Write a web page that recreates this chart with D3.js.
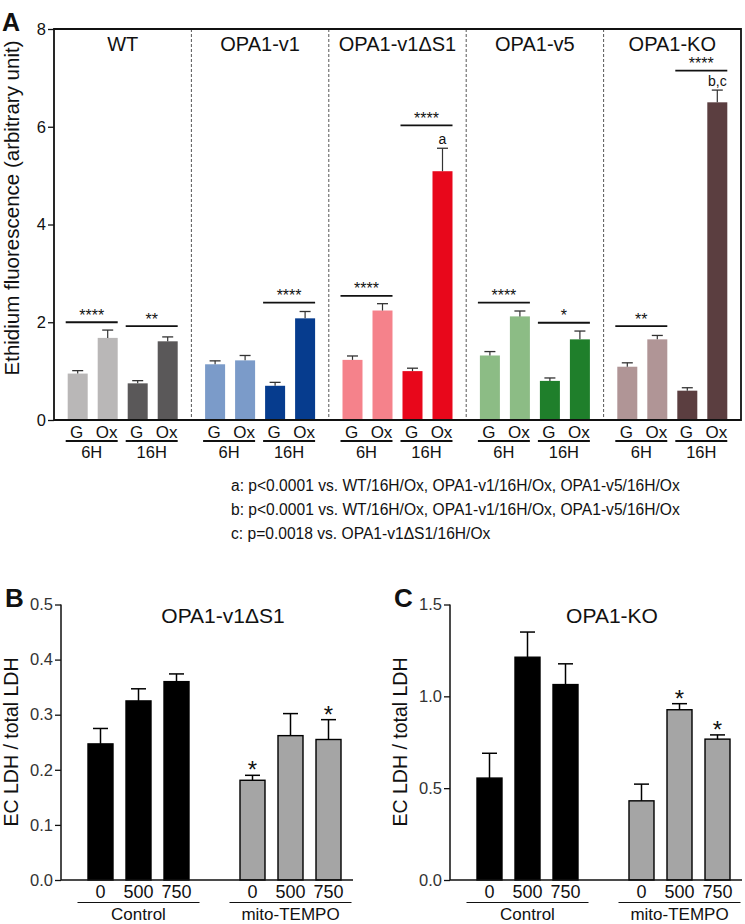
<!DOCTYPE html>
<html><head><meta charset="utf-8">
<script src="https://cdn.jsdelivr.net/npm/d3@7"></script>
<style>
body{margin:0;background:#fff;}
svg{display:block;font-family:"Liberation Sans",Arial,Helvetica,sans-serif;}
</style>
</head><body>
<svg id="c" width="745" height="924"></svg>
<script>
// ---------- Panel A data ----------
const groupsA = ["WT","OPA1-v1","OPA1-v1ΔS1","OPA1-v5","OPA1-KO"];
const barsA = ["6H-G","6H-Ox","16H-G","16H-Ox"];
const treatLabelsA = ["G","Ox","G","Ox"];
const timeLabelsA = ["6H","16H"];
const meanWT  = [0.95,1.68,0.75,1.61];
const errWT   = [0.06,0.16,0.055,0.09];
const meanV1  = [1.14,1.22,0.70,2.08];
const errV1   = [0.07,0.10,0.07,0.14];
const meanDS1 = [1.23,2.24,1.00,5.09];
const errDS1  = [0.08,0.14,0.06,0.47];
const meanV5  = [1.32,2.12,0.80,1.65];
const errV5   = [0.08,0.11,0.06,0.17];
const meanKO  = [1.09,1.65,0.60,6.50];
const errKO   = [0.08,0.08,0.06,0.25];
const lightColorsA = ["#b9b7b7","#7b9bc9","#f5828b","#8cbc85","#b09596"];
const darkColorsA  = ["#5a5859","#063c8e","#e8071b","#1f7f2b","#5b3e40"];
const ticksA = [0,2,4,6,8];
const sigGroupA = [0,0,1,2,2,3,3,4,4];
const sigFromA  = [0,2,2,0,2,0,2,0,2];
const sigToA    = [1,3,3,1,3,1,3,1,3];
const sigYA     = [2.0,1.92,2.40,2.54,6.03,2.40,1.99,1.92,7.15];
const sigTextA  = ["****","**","****","****","****","****","*","**","****"];
const letterGroupA = [2,4];
const letterTextA  = ["a","b,c"];
const footnotes = [
  "a: p<0.0001 vs. WT/16H/Ox, OPA1-v1/16H/Ox, OPA1-v5/16H/Ox",
  "b: p<0.0001 vs. WT/16H/Ox, OPA1-v1/16H/Ox, OPA1-v5/16H/Ox",
  "c: p=0.0018 vs. OPA1-v1ΔS1/16H/Ox"
];

// ---------- Panels B / C data ----------
const dosesBC = ["0","500","750"];
const treatmentsBC = ["Control","mito-TEMPO"];
const meanB = [0.247,0.325,0.360,0.181,0.262,0.255];
const errB  = [0.028,0.022,0.014,0.009,0.040,0.036];
const starB = ["","","","*","","*"];
const ticksB = [0.0,0.1,0.2,0.3,0.4,0.5];
const meanC = [0.555,1.213,1.064,0.431,0.927,0.767];
const errC  = [0.135,0.137,0.113,0.091,0.033,0.023];
const starC = ["","","","","*","*"];
const ticksC = [0.0,0.5,1.0,1.5];

const svg = d3.select("#c");
const FONT = '"Liberation Sans",Arial,Helvetica,sans-serif';

// ================= Panel A =================
(function(){
  const means = [meanWT,meanV1,meanDS1,meanV5,meanKO];
  const errs  = [errWT,errV1,errDS1,errV5,errKO];
  const L=54, R=741, T=29, B=420;
  const g = svg.append("g");
  const x0 = d3.scaleBand().domain(groupsA).range([L,R]);
  const bw = x0.bandwidth();
  const x1 = d3.scaleBand().domain(barsA).range([bw/2-60,bw/2+60]).paddingInner(1/3).paddingOuter(1/6);
  const y = d3.scaleLinear().domain([0,8]).range([B,T]);

  g.selectAll("line.div").data(groupsA.slice(1)).join("line")
    .attr("x1",d=>x0(d)).attr("x2",d=>x0(d)).attr("y1",T).attr("y2",B)
    .attr("stroke","#444").attr("stroke-width",0.9).attr("stroke-dasharray","3,2");

  groupsA.forEach((grp,gi)=>{
    const gg = g.append("g").attr("transform",`translate(${x0(grp)},0)`);
    barsA.forEach((b,bi)=>{
      const v = means[gi][bi], e = errs[gi][bi];
      const cx = x1(b)+x1.bandwidth()/2;
      gg.append("rect").attr("x",x1(b)).attr("width",x1.bandwidth())
        .attr("y",y(v)).attr("height",y(0)-y(v))
        .attr("fill", bi<2 ? lightColorsA[gi] : darkColorsA[gi]);
      gg.append("line").attr("x1",cx).attr("x2",cx).attr("y1",y(v)).attr("y2",y(v+e))
        .attr("stroke","#333").attr("stroke-width",1.2);
      gg.append("line").attr("x1",cx-5.5).attr("x2",cx+5.5).attr("y1",y(v+e)).attr("y2",y(v+e))
        .attr("stroke","#333").attr("stroke-width",1.3);
      gg.append("text").attr("x",cx-1).attr("y",438).attr("text-anchor","middle")
        .attr("font-size",17).attr("fill","#111").text(treatLabelsA[bi]);
    });
    timeLabelsA.forEach((t,ti)=>{
      const a = x1(barsA[ti*2]), b = x1(barsA[ti*2+1])+x1.bandwidth();
      gg.append("line").attr("x1",a-2).attr("x2",b).attr("y1",441).attr("y2",441)
        .attr("stroke","#111").attr("stroke-width",1.8);
      gg.append("text").attr("x",(a+b)/2-1).attr("y",458).attr("text-anchor","middle")
        .attr("font-size",16.5).attr("fill","#111").text(t);
    });
    gg.append("text").attr("x",bw/2).attr("y",51).attr("text-anchor","middle")
      .attr("font-size",20).attr("fill","#111").text(grp);
  });

  sigGroupA.forEach((gi,i)=>{
    const ox = x0(groupsA[gi]);
    const a = ox + x1(barsA[sigFromA[i]]) - 2;
    const b = ox + x1(barsA[sigToA[i]]) + x1.bandwidth();
    const yy = y(sigYA[i]);
    g.append("line").attr("x1",a).attr("x2",b).attr("y1",yy).attr("y2",yy)
      .attr("stroke","#111").attr("stroke-width",1.8);
    g.append("text").attr("x",(a+b)/2).attr("y",yy-1.5).attr("text-anchor","middle")
      .attr("font-size",16).attr("fill","#111").text(sigTextA[i]);
  });
  letterGroupA.forEach((gi,i)=>{
    const ox = x0(groupsA[gi]);
    const cx = ox + x1("16H-Ox") + x1.bandwidth()/2;
    const top = y(means[gi][3]+errs[gi][3]);
    g.append("text").attr("x",cx).attr("y",top-4).attr("text-anchor","middle")
      .attr("font-size",14).attr("fill","#111").text(letterTextA[i]);
  });

  const ax = g.append("g").attr("transform",`translate(${L},0)`)
    .call(d3.axisLeft(y).tickValues(ticksA).tickSize(6).tickSizeOuter(0).tickFormat(d3.format("d")));
  ax.select(".domain").remove();
  ax.selectAll(".tick line").attr("stroke","#111").attr("stroke-width",1.3);
  ax.selectAll(".tick text").attr("font-size",16.5).attr("font-family",FONT).attr("fill","#111").attr("x",-8);
  g.append("path").attr("d",`M${L},${T}H${R}V${B}H${L}Z`).attr("fill","none")
    .attr("stroke","#111").attr("stroke-width",1.8);

  g.append("text").attr("transform","translate(19,208) rotate(-90)").attr("text-anchor","middle")
    .attr("font-size",20.5).attr("fill","#111").text("Ethidium fluorescence (arbitrary unit)");
  g.append("text").attr("x",2).attr("y",31).attr("font-size",25).attr("font-weight","bold")
    .attr("fill","#111").text("A");

  footnotes.forEach((f,i)=>{
    g.append("text").attr("x",231).attr("y",491+i*24).attr("font-size",15.6)
      .attr("fill","#111").text(f);
  });
})();

// ================= Panels B & C =================
function ldhPanel(ox, means, errs, stars, ticks, ymax, title, letter, tickFmt){
  const L=ox, R=ox+292, T=604.5, B=880;
  const g = svg.append("g");
  const y = d3.scaleLinear().domain([0,ymax]).range([B,T]);
  const xg = d3.scalePoint().domain(treatmentsBC).range([ox+77.5, ox+229.5]);
  const xd = d3.scaleBand().domain(dosesBC).range([-57,57]).paddingInner(13/38).paddingOuter(0.171);
  treatmentsBC.forEach((t,ti)=>{
    const gc = xg(t);
    dosesBC.forEach((d,di)=>{
      const i = ti*3+di, v = means[i], e = errs[i];
      const bx = gc + xd(d), cx = bx + xd.bandwidth()/2;
      g.append("line").attr("x1",cx).attr("x2",cx).attr("y1",y(v)).attr("y2",y(v+e))
        .attr("stroke","#000").attr("stroke-width",1.5);
      g.append("line").attr("x1",cx-7.5).attr("x2",cx+7.5).attr("y1",y(v+e)).attr("y2",y(v+e))
        .attr("stroke","#000").attr("stroke-width",1.5);
      g.append("rect").attr("x",bx).attr("width",xd.bandwidth()).attr("y",y(v)).attr("height",y(0)-y(v))
        .attr("fill", ti===0 ? "#000" : "#a5a5a5").attr("stroke","#000").attr("stroke-width",1.4);
      g.append("text").attr("x",cx).attr("y",898).attr("text-anchor","middle")
        .attr("font-size",18).attr("fill","#111").text(d);
      if(stars[i]){
        g.append("text").attr("x",cx).attr("y",y(v+e)+3).attr("text-anchor","middle")
          .attr("font-size",24).attr("fill","#111").text(stars[i]);
      }
    });
    g.append("line").attr("x1",gc-61).attr("x2",gc+61).attr("y1",902.5).attr("y2",902.5)
      .attr("stroke","#111").attr("stroke-width",1.2);
    g.append("text").attr("x",gc).attr("y",920).attr("text-anchor","middle")
      .attr("font-size",17).attr("fill","#111").text(t);
  });
  const ax = g.append("g").attr("transform",`translate(${L},0)`)
    .call(d3.axisLeft(y).tickValues(ticks).tickSize(6).tickSizeOuter(0).tickFormat(d3.format(tickFmt)));
  ax.select(".domain").remove();
  ax.selectAll(".tick line").attr("stroke","#111").attr("stroke-width",1.3);
  ax.selectAll(".tick text").attr("font-size",16.5).attr("font-family",FONT).attr("fill","#333").attr("x",-8);
  g.append("path").attr("d",`M${L},${T}V${B}H${R}`).attr("fill","none")
    .attr("stroke","#111").attr("stroke-width",1.5);
  g.append("text").attr("x",ox+162).attr("y",623).attr("text-anchor","middle")
    .attr("font-size",21).attr("fill","#111").text(title);
  g.append("text").attr("transform",`translate(${ox-43},742) rotate(-90)`).attr("text-anchor","middle")
    .attr("font-size",19.5).attr("fill","#111").text("EC LDH / total LDH");
  g.append("text").attr("x",ox-56).attr("y",607).attr("font-size",26).attr("font-weight","bold")
    .attr("fill","#111").text(letter);
}
ldhPanel(61, meanB, errB, starB, ticksB, 0.5, "OPA1-v1ΔS1", "B", ".1f");
ldhPanel(450, meanC, errC, starC, ticksC, 1.5, "OPA1-KO", "C", ".1f");
</script>
</body></html>
